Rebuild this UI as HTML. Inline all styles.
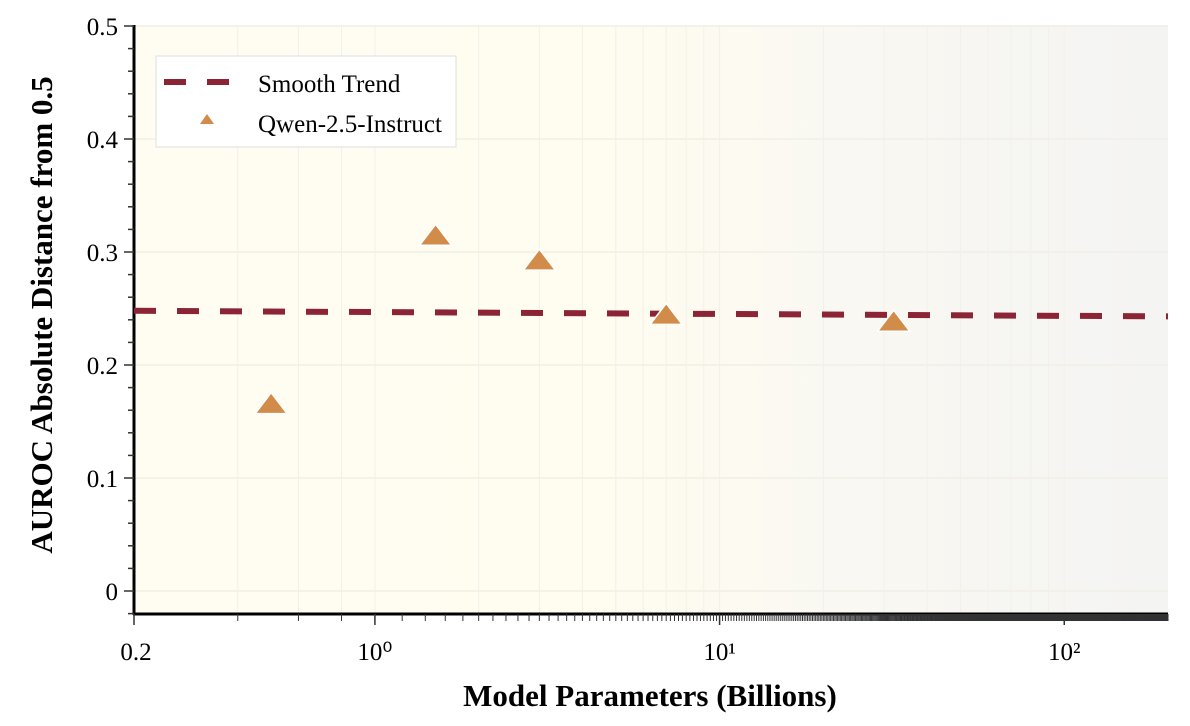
<!DOCTYPE html>
<html><head><meta charset="utf-8"><style>
body{margin:0;background:#fff;}
svg{display:block;font-family:"Liberation Serif",serif;}
</style></head><body>
<svg width="1190" height="726">
<defs><linearGradient id="bg" x1="0" x2="1" y1="0" y2="0">
<stop offset="0" stop-color="#fffdf2"/><stop offset="0.45" stop-color="#fffcf0"/><stop offset="0.75" stop-color="#f8f7f2"/><stop offset="1" stop-color="#f4f4f3"/></linearGradient></defs>
<rect x="134" y="25" width="1034" height="589" fill="url(#bg)"/>
<g id="grid"></g>
<g id="axes"></g>
<g id="marks"></g>
<text x="650" y="706" text-anchor="middle" font-size="31" font-weight="bold">Model Parameters (Billions)</text>
<text transform="translate(52,315) rotate(-90)" text-anchor="middle" font-size="31" font-weight="bold">AUROC Absolute Distance from 0.5</text>
<g>
<rect x="156" y="56" width="300" height="91" fill="#fff" stroke="#ddd"/>
<line x1="164" y1="82" x2="230" y2="82" stroke="#8b2535" stroke-width="6" stroke-dasharray="22,21"/>
<text x="258" y="92" font-size="25">Smooth Trend</text>
<polygon points="207,114 200,124 214,124" fill="#d28c4a"/>
<text x="258" y="132" font-size="25">Qwen-2.5-Instruct</text>
</g>
</svg>
<script>
const qwenParams=[0.5,1.5,3,7,32];
const qwenValues=[0.164,0.313,0.291,0.243,0.237];
const trendX=[0.2,200];
const trendY=[0.248,0.243];
const yTicks=[0,0.1,0.2,0.3,0.4,0.5];
const yTickLabels=["0","0.1","0.2","0.3","0.4","0.5"];
const xMajor=[0.2,1,10,100];
const xMajorLabels=["0.2","10⁰","10¹","10²"];
const NS="http://www.w3.org/2000/svg";
const X0=134,X1=1168,xMinL=Math.log10(0.2),xMaxL=Math.log10(200);
const sx=v=>X0+(Math.log10(v)-xMinL)/(xMaxL-xMinL)*(X1-X0);
const sy=v=>591-v*1130;
function mk(tag,attrs,parent){const e=document.createElementNS(NS,tag);for(const k in attrs)e.setAttribute(k,attrs[k]);document.getElementById(parent).appendChild(e);return e;}
yTicks.forEach(v=>{const l=mk('line',{x1:X0,x2:X1,y1:sy(v),y2:sy(v),stroke:'#efede4','stroke-width':1.2},'grid');

});
[0.4,0.6,0.8,1,2,3,4,5,6,7,8,9,10,20,30,40,50,60,70,80,90,100].forEach(v=>{const l=mk('line',{x1:sx(v),x2:sx(v),y1:25,y2:614,stroke:'#f2f0e8','stroke-width':1},'grid');

});
let a=mk('line',{x1:X0,x2:X0,y1:25,y2:615,stroke:'#000','stroke-width':3},'axes');


a=mk('line',{x1:X0-1,x2:X1,y1:614,y2:614,stroke:'#000','stroke-width':3},'axes');


for(let i=-1;i<=25;i++){const v=i*0.02;const y=sy(v);const major=i%5===0;
const t=mk('line',{x1:X0-(major?10:6),x2:X0,y1:y,y2:y,stroke:'#333','stroke-width':1.5},'axes');

}
yTicks.forEach((v,i)=>{const t=mk('text',{x:X0-16,y:sy(v)+9,'text-anchor':'end','font-size':25},'axes');t.textContent=yTickLabels[i];

});
for(let i=1;i<=1000;i++){const v=i*0.2;const x=sx(v);
const t=mk('line',{x1:x,x2:x,y1:614,y2:621,stroke:'#333','stroke-width':1},'axes');

}
xMajor.forEach((v,i)=>{const t=mk('line',{x1:sx(v),x2:sx(v),y1:614,y2:625,stroke:'#333','stroke-width':1.5},'axes');


const tx=mk('text',{x:sx(v)+(i===0?2:0),y:660,'text-anchor':'middle','font-size':25},'axes');tx.textContent=xMajorLabels[i];

});
const tr=mk('line',{x1:sx(trendX[0]),y1:sy(trendY[0]),x2:sx(trendX[1]),y2:sy(trendY[1]),stroke:'#8b2535','stroke-width':6,'stroke-dasharray':'22,21'},'marks');


qwenParams.forEach((p,i)=>{const x=sx(p),y=sy(qwenValues[i]);
const t=mk('polygon',{points:`${x},${y-13} ${x-16},${y+8} ${x+16},${y+8}`,fill:'#d28c4a',stroke:'#fff','stroke-width':1.5},'marks');

});
</script>
</body></html>
